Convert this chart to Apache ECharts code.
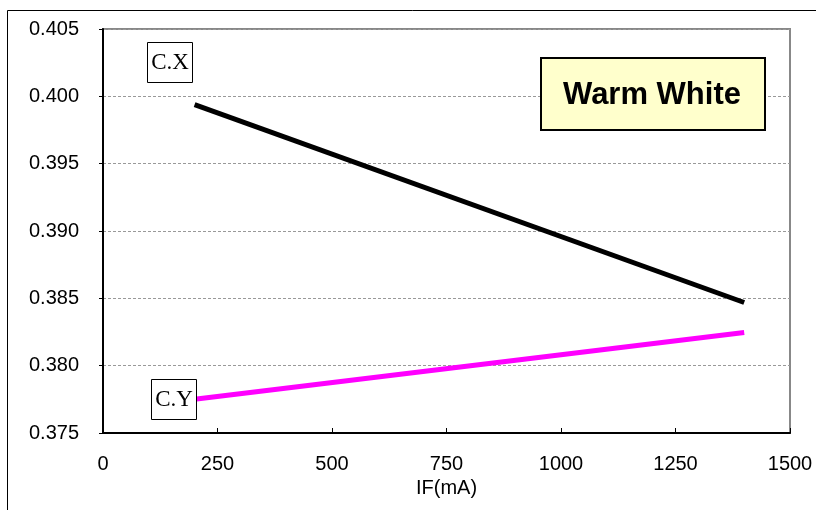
<!DOCTYPE html>
<html>
<head>
<meta charset="utf-8">
<script src="https://cdn.jsdelivr.net/npm/echarts@6/dist/echarts.min.js"></script>
<style>html,body{margin:0;padding:0;background:#fff}#c{width:816px;height:510px}</style>
</head>
<body>
<div id="c"></div>
<script>
// Data
const currentX = [200, 1400];          // IF (mA)
const cxValues = [0.39938, 0.38469];    // C.X
const cyValues = [0.37751, 0.38246];    // C.Y
const xTicks = [0, 250, 500, 750, 1000, 1250, 1500];
const yTicks = [0.375, 0.380, 0.385, 0.390, 0.395, 0.400, 0.405];
const seriesNames = ['C.X', 'C.Y'];
const titleText = 'Warm White';
const xAxisName = 'IF(mA)';

const chart = echarts.init(document.getElementById('c'), null, {renderer: 'canvas'});
const pairs = (xs, ys) => xs.map((x, i) => [x, ys[i]]);

chart.setOption({
  animation: false,
  backgroundColor: '#fff',
  grid: {left: 103, top: 29, right: 26, bottom: 77, show: true,
         borderColor: '#888', borderWidth: 2, backgroundColor: 'transparent'},
  xAxis: {
    type: 'value', min: xTicks[0], max: xTicks[xTicks.length - 1], interval: 250,
    name: xAxisName, nameLocation: 'middle', nameGap: 45,
    nameTextStyle: {fontFamily: 'Liberation Sans', fontSize: 20, color: '#000'},
    axisLine: {show: true, onZero: false, lineStyle: {color: '#000', width: 2}},
    axisTick: {show: true, inside: true, length: 5, lineStyle: {color: '#000', width: 1}},
    axisLabel: {fontFamily: 'Liberation Sans', fontSize: 20, color: '#000', margin: 21,
                formatter: v => String(v)},
    splitLine: {show: false}
  },
  yAxis: {
    type: 'value', min: yTicks[0], max: yTicks[yTicks.length - 1], interval: 0.005,
    axisLine: {show: true, onZero: false, lineStyle: {color: '#000', width: 2}},
    axisTick: {show: true, inside: false, length: 4, lineStyle: {color: '#000', width: 1}},
    axisLabel: {fontFamily: 'Liberation Sans', fontSize: 20, color: '#000', margin: 24,
                formatter: v => v.toFixed(3)},
    splitLine: {show: true, lineStyle: {color: '#999', type: [3, 2], width: 1}}
  },
  series: [
    {name: seriesNames[0], type: 'line', data: pairs(currentX, cxValues), symbol: 'none',
     lineStyle: {color: '#000', width: 5}, z: 3},
    {name: seriesNames[1], type: 'line', data: pairs(currentX, cyValues), symbol: 'none',
     lineStyle: {color: '#ff00ff', width: 5}, z: 3}
  ],
  graphic: [
    {type: 'rect', silent: true,
     shape: {x: 7.5, y: 10.5, width: 900, height: 600},
     style: {fill: 'none', stroke: '#000', lineWidth: 1}},
    {type: 'rect', shape: {x: 147.5, y: 42.5, width: 45, height: 40},
     style: {fill: '#fff', stroke: '#000', lineWidth: 1}, z: 10},
    {type: 'text', x: 170, y: 63, z: 11,
     style: {text: seriesNames[0], font: '23px "Liberation Serif"', fill: '#000', align: 'center', verticalAlign: 'middle'}},
    {type: 'rect', shape: {x: 151.5, y: 379.5, width: 45, height: 40},
     style: {fill: '#fff', stroke: '#000', lineWidth: 1}, z: 10},
    {type: 'text', x: 174, y: 400, z: 11,
     style: {text: seriesNames[1], font: '23px "Liberation Serif"', fill: '#000', align: 'center', verticalAlign: 'middle'}},
    {type: 'rect', shape: {x: 541, y: 58, width: 224, height: 72},
     style: {fill: '#ffffcc', stroke: '#000', lineWidth: 2}, z: 10},
    {type: 'text', x: 652, y: 95, z: 11,
     style: {text: titleText, font: 'bold 31px "Liberation Sans"', fill: '#000', align: 'center', verticalAlign: 'middle'}}
  ]
});
</script>
</body>
</html>
